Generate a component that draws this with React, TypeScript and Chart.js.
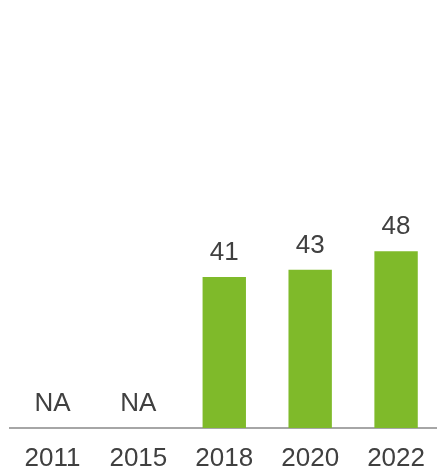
import React, { useEffect, useRef } from "react";
import { Chart, registerables } from "chart.js";

Chart.register(...registerables);

const categories: string[] = ["2011", "2015", "2018", "2020", "2022"];
const values: (number | null)[] = [null, null, 41, 43, 48];
const valueLabels: string[] = values.map((v) => (v == null ? "NA" : String(v)));

const GREEN = "#7fba2a";
const TEXT = "#404040";
const FONT = "'Liberation Sans', Arial, sans-serif";

const labelPlugin = {
  id: "valueLabels",
  afterDatasetsDraw(chart: any) {
    const { ctx, scales } = chart;
    const xs = scales.x;
    const ys = scales.y;
    ctx.save();
    ctx.fillStyle = TEXT;
    ctx.font = `26px ${FONT}`;
    ctx.textAlign = "center";
    ctx.textBaseline = "alphabetic";
    values.forEach((v, i) => {
      const x = xs.getPixelForValue(i);
      const y = ys.getPixelForValue(v == null ? 0 : v);
      ctx.fillText(valueLabels[i], x, y - 17);
    });
    ctx.restore();
  },
};

export default function App() {
  const ref = useRef<HTMLCanvasElement | null>(null);
  useEffect(() => {
    if (!ref.current) return;
    const chart = new Chart(ref.current, {
      type: "bar",
      data: {
        labels: categories,
        datasets: [
          {
            data: values as any,
            backgroundColor: GREEN,
            barPercentage: 0.505,
            categoryPercentage: 1,
          },
        ],
      },
      options: {
        responsive: false,
        animation: false,
        layout: { padding: { left: 9.5, right: 0, top: 60, bottom: 0 } },
        plugins: { legend: { display: false }, tooltip: { enabled: false } },
        scales: {
          x: {
            grid: { display: false, drawTicks: false },
            border: { display: true, color: "#a6a6a6", width: 2 },
            ticks: {
              color: TEXT,
              font: { family: FONT, size: 26 },
              padding: 15,
              maxRotation: 0,
              autoSkip: false,
            },
            afterFit(scale: any) {
              scale.height = 48;
            },
          },
          y: {
            display: false,
            min: 0,
            max: 100,
          },
        },
      },
      plugins: [labelPlugin],
    });
    return () => chart.destroy();
  }, []);
  return (
    <div style={{ position: "absolute", left: 0, top: 0, width: 437, height: 476, overflow: "hidden" }}>
      <canvas ref={ref} width={440} height={476} style={{ display: "block" }} />
    </div>
  );
}
